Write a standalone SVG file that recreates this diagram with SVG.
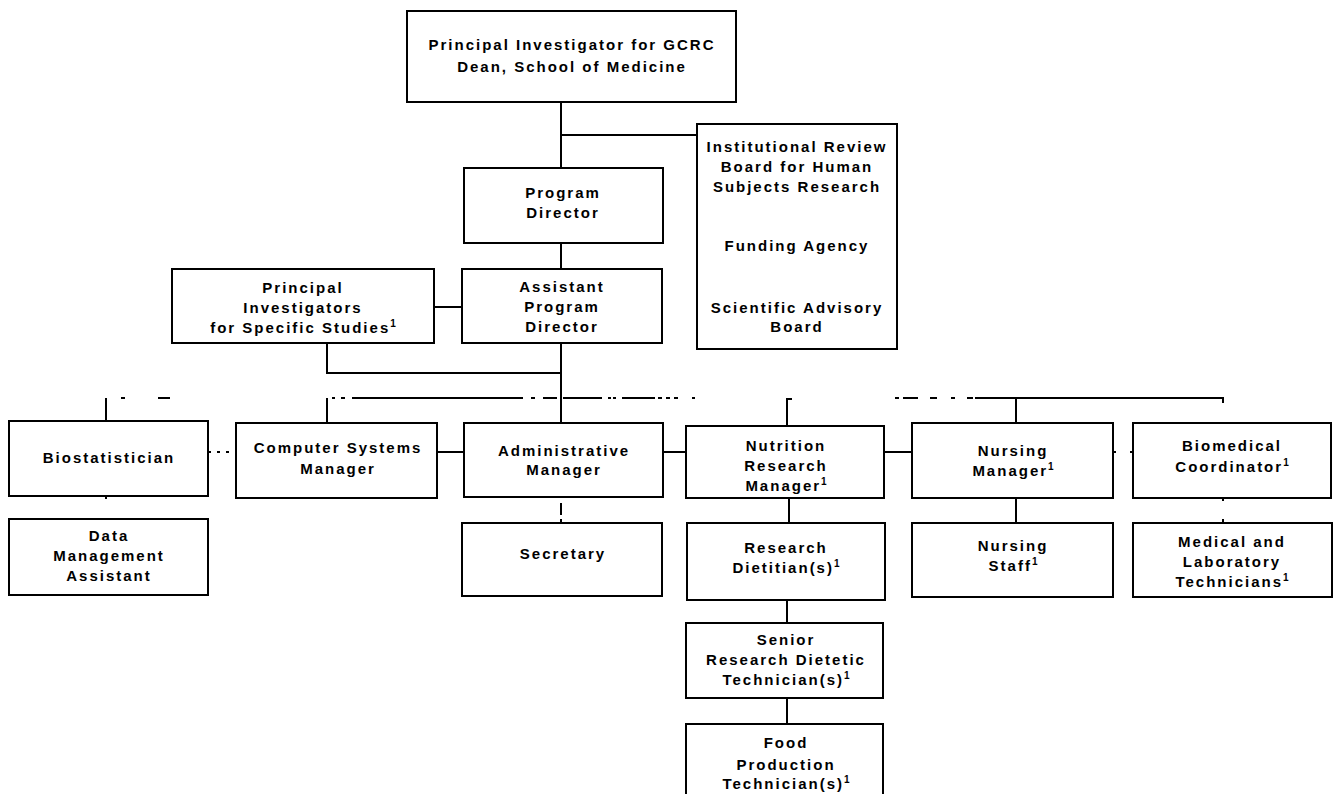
<svg xmlns="http://www.w3.org/2000/svg" width="1336" height="794" viewBox="0 0 1336 794">
<style>
.box{fill:#fff;stroke:#000;stroke-width:2}
.c{fill:none;stroke:#000;stroke-width:2}
.d{fill:none;stroke:#000;stroke-width:2;stroke-dasharray:3 6}
.t{font-family:"Liberation Sans",Arial,Helvetica,sans-serif;font-size:15px;font-weight:bold;letter-spacing:2px;text-anchor:middle;fill:#000}
.s{font-size:10px;letter-spacing:0}
</style>
<rect width="1336" height="794" fill="#fff"/>
<g id="connectors">
  <path class="c" d="M561 102V168M561 135H697M561 243V269M434 307H462M327 343V373H561M561 343V423"/>
  <path class="c" d="M106 398V421M121 398H125M158 398H170M327 398V423M332 398H335M341 398H345M352 398H523M531 398H535M543 398H557M563 398H602M608 398H611M613 398H616M622 398H655M658 398H662M666 398H670M674 398H678M692 398H695"/>
  <path class="c" d="M792 399H787V426M895 398H899M903 398H918M930 398H937M951 398H955M967 398H973M975 398H1223V403M1016 398V423"/>
  <path class="c" d="M437 452H464M663 452H686M884 452H912M789 498V523M787 600V623M787 698V724M1016 498V523"/>
  <path class="d" d="M208 452H236"/>
  <path class="c" d="M1113 452H1116M1130 452H1133M1223 498V501M1223 519V523M106 496V499"/>
  <path class="c" d="M561 503V515M561 519V523"/>
</g>
<g id="pi-gcrc">
  <rect class="box" x="407" y="11" width="329" height="91"/>
  <text class="t" x="572" y="50">Principal Investigator for GCRC</text>
  <text class="t" x="572" y="72">Dean, School of Medicine</text>
</g>
<g id="irb">
  <rect class="box" x="697" y="124" width="200" height="225"/>
  <text class="t" x="797" y="152">Institutional Review</text>
  <text class="t" x="797" y="172">Board for Human</text>
  <text class="t" x="797" y="192">Subjects Research</text>
  <text class="t" x="797" y="251">Funding Agency</text>
  <text class="t" x="797" y="313">Scientific Advisory</text>
  <text class="t" x="797" y="332">Board</text>
</g>
<g id="program-director">
  <rect class="box" x="464" y="168" width="199" height="75"/>
  <text class="t" x="563" y="198">Program</text>
  <text class="t" x="563" y="218">Director</text>
</g>
<g id="assistant-program-director">
  <rect class="box" x="462" y="269" width="200" height="74"/>
  <text class="t" x="562" y="292">Assistant</text>
  <text class="t" x="562" y="312">Program</text>
  <text class="t" x="562" y="332">Director</text>
</g>
<g id="pi-specific">
  <rect class="box" x="172" y="269" width="262" height="74"/>
  <text class="t" x="303" y="293">Principal</text>
  <text class="t" x="303" y="313">Investigators</text>
  <text class="t" x="303" y="333">for Specific Studies<tspan class="s" dy="-6">1</tspan></text>
</g>
<g id="biostatistician">
  <rect class="box" x="9" y="421" width="199" height="75"/>
  <text class="t" x="109" y="463">Biostatistician</text>
</g>
<g id="data-management">
  <rect class="box" x="9" y="519" width="199" height="76"/>
  <text class="t" x="109" y="541">Data</text>
  <text class="t" x="109" y="561">Management</text>
  <text class="t" x="109" y="581">Assistant</text>
</g>
<g id="computer-systems">
  <rect class="box" x="236" y="423" width="201" height="75"/>
  <text class="t" x="338" y="453">Computer Systems</text>
  <text class="t" x="338" y="474">Manager</text>
</g>
<g id="administrative-manager">
  <rect class="box" x="464" y="423" width="199" height="74"/>
  <text class="t" x="564" y="456">Administrative</text>
  <text class="t" x="564" y="475">Manager</text>
</g>
<g id="secretary">
  <rect class="box" x="462" y="523" width="200" height="73"/>
  <text class="t" x="563" y="559">Secretary</text>
</g>
<g id="nutrition-research-manager">
  <rect class="box" x="686" y="426" width="198" height="72"/>
  <text class="t" x="786" y="451">Nutrition</text>
  <text class="t" x="786" y="471">Research</text>
  <text class="t" x="786" y="491">Manager<tspan class="s" dy="-6">1</tspan></text>
</g>
<g id="research-dietitian">
  <rect class="box" x="687" y="523" width="198" height="77"/>
  <text class="t" x="786" y="553">Research</text>
  <text class="t" x="786" y="573">Dietitian(s)<tspan class="s" dy="-6">1</tspan></text>
</g>
<g id="senior-technician">
  <rect class="box" x="686" y="623" width="197" height="75"/>
  <text class="t" x="786" y="645">Senior</text>
  <text class="t" x="786" y="665">Research Dietetic</text>
  <text class="t" x="786" y="685">Technician(s)<tspan class="s" dy="-6">1</tspan></text>
</g>
<g id="food-production">
  <rect class="box" x="686" y="724" width="197" height="80"/>
  <text class="t" x="786" y="748">Food</text>
  <text class="t" x="786" y="770">Production</text>
  <text class="t" x="786" y="789">Technician(s)<tspan class="s" dy="-6">1</tspan></text>
</g>
<g id="nursing-manager">
  <rect class="box" x="912" y="423" width="201" height="75"/>
  <text class="t" x="1013" y="456">Nursing</text>
  <text class="t" x="1013" y="476">Manager<tspan class="s" dy="-6">1</tspan></text>
</g>
<g id="nursing-staff">
  <rect class="box" x="912" y="523" width="201" height="74"/>
  <text class="t" x="1013" y="551">Nursing</text>
  <text class="t" x="1013" y="571">Staff<tspan class="s" dy="-6">1</tspan></text>
</g>
<g id="biomedical-coordinator">
  <rect class="box" x="1133" y="423" width="198" height="75"/>
  <text class="t" x="1232" y="451">Biomedical</text>
  <text class="t" x="1232" y="472">Coordinator<tspan class="s" dy="-6">1</tspan></text>
</g>
<g id="medical-lab-technicians">
  <rect class="box" x="1133" y="523" width="199" height="74"/>
  <text class="t" x="1232" y="547">Medical and</text>
  <text class="t" x="1232" y="567">Laboratory</text>
  <text class="t" x="1232" y="587">Technicians<tspan class="s" dy="-6">1</tspan></text>
</g>
</svg>
